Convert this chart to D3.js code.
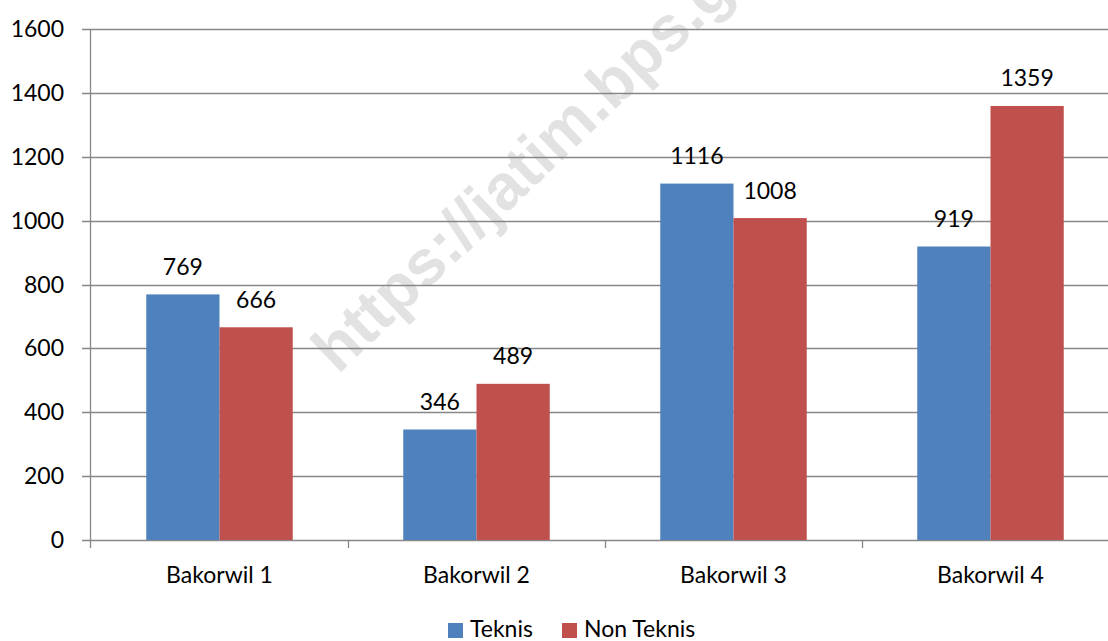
<!DOCTYPE html>
<html>
<head>
<meta charset="utf-8">
<script src="https://cdn.jsdelivr.net/npm/d3@7.9.0/dist/d3.min.js"></script>
<style>
  html, body { margin: 0; padding: 0; background: #fff; }
  svg { display: block; font-family: Lato, "Open Sans", sans-serif; }
</style>
</head>
<body>
<div id="chart"></div>
<script>
const categories = ['Bakorwil 1', 'Bakorwil 2', 'Bakorwil 3', 'Bakorwil 4'];
const seriesNames = ['Teknis', 'Non Teknis'];
const teknis = [769, 346, 1116, 919];
const nonTeknis = [666, 489, 1008, 1359];
const yTicks = [0, 200, 400, 600, 800, 1000, 1200, 1400, 1600];
const colors = ['#4f81bd', '#c0504d'];

const width = 1108;
const height = 641;
const plot = { left: 91, right: 1119, top: 29, bottom: 540 };
const axisColor = '#878787';

const rows = categories.map((c, i) => ({ cat: c, values: [teknis[i], nonTeknis[i]] }));

const svg = d3.select('#chart').append('svg')
  .attr('width', width)
  .attr('height', height);

const x0 = d3.scaleBand()
  .domain(categories)
  .range([plot.left, plot.right])
  .paddingInner(0.43)
  .paddingOuter(0.215);

const x1 = d3.scaleBand()
  .domain(seriesNames)
  .range([0, x0.bandwidth()]);

const y = d3.scaleLinear()
  .domain([0, 1600])
  .range([plot.bottom, plot.top]);

// watermark
svg.append('text')
  .attr('transform', 'translate(338,375) rotate(-43.8)')
  .attr('font-family', '"Liberation Sans", Arial, sans-serif')
  .attr('font-weight', 'bold')
  .attr('font-size', 64)
  .attr('fill', '#e2e2e2')
  .text('https://jatim.bps.go.id');

// gridlines
svg.append('g')
  .selectAll('line')
  .data(yTicks)
  .join('line')
  .attr('x1', plot.left - 9)
  .attr('x2', plot.right)
  .attr('y1', d => Math.round(y(d)) + 0.5)
  .attr('y2', d => Math.round(y(d)) + 0.5)
  .attr('stroke', axisColor)
  .attr('stroke-width', 1.3);

// y axis line
svg.append('line')
  .attr('x1', plot.left - 0.5).attr('x2', plot.left - 0.5)
  .attr('y1', plot.top).attr('y2', plot.bottom + 8)
  .attr('stroke', axisColor)
  .attr('stroke-width', 1.3);

// category ticks
const step = x0.step();
svg.append('g')
  .selectAll('line')
  .data(categories.slice(1))
  .join('line')
  .attr('x1', (d, i) => Math.round(plot.left + step * (i + 1)) + 0.5)
  .attr('x2', (d, i) => Math.round(plot.left + step * (i + 1)) + 0.5)
  .attr('y1', plot.bottom)
  .attr('y2', plot.bottom + 8)
  .attr('stroke', axisColor)
  .attr('stroke-width', 1.3);

// y tick labels
svg.append('g')
  .selectAll('text')
  .data(yTicks)
  .join('text')
  .attr('x', 64)
  .attr('y', d => y(d) + 8)
  .attr('text-anchor', 'end')
  .attr('font-size', 23)
  .attr('fill', '#000')
  .text(d => d);

// bars
const groups = svg.append('g')
  .selectAll('g')
  .data(rows)
  .join('g')
  .attr('transform', d => `translate(${x0(d.cat)},0)`);

groups.selectAll('rect')
  .data(d => d.values.map((v, i) => ({ key: seriesNames[i], v, i })))
  .join('rect')
  .attr('x', d => x1(d.key))
  .attr('width', x1.bandwidth())
  .attr('y', d => y(d.v))
  .attr('height', d => plot.bottom - y(d.v))
  .attr('fill', d => colors[d.i]);

groups.selectAll('text')
  .data(d => d.values.map((v, i) => ({ key: seriesNames[i], v, i })))
  .join('text')
  .attr('x', d => x1(d.key) + x1.bandwidth() / 2)
  .attr('y', d => y(d.v) - 19.5)
  .attr('text-anchor', 'middle')
  .attr('font-size', 23)
  .attr('fill', '#000')
  .text(d => d.v);

// category labels
svg.append('g')
  .selectAll('text')
  .data(categories)
  .join('text')
  .attr('x', d => x0(d) + x0.bandwidth() / 2)
  .attr('y', 583)
  .attr('text-anchor', 'middle')
  .attr('font-size', 23)
  .attr('fill', '#000')
  .text(d => d);

// legend
const legendX = [448, 562];
const legend = svg.append('g')
  .selectAll('g')
  .data(seriesNames)
  .join('g')
  .attr('transform', (d, i) => `translate(${legendX[i]},623)`);

legend.append('rect')
  .attr('width', 15)
  .attr('height', 15)
  .attr('fill', (d, i) => colors[i]);

legend.append('text')
  .attr('x', 22)
  .attr('y', 14)
  .attr('font-size', 23)
  .attr('fill', '#000')
  .text(d => d);
</script>
</body>
</html>
